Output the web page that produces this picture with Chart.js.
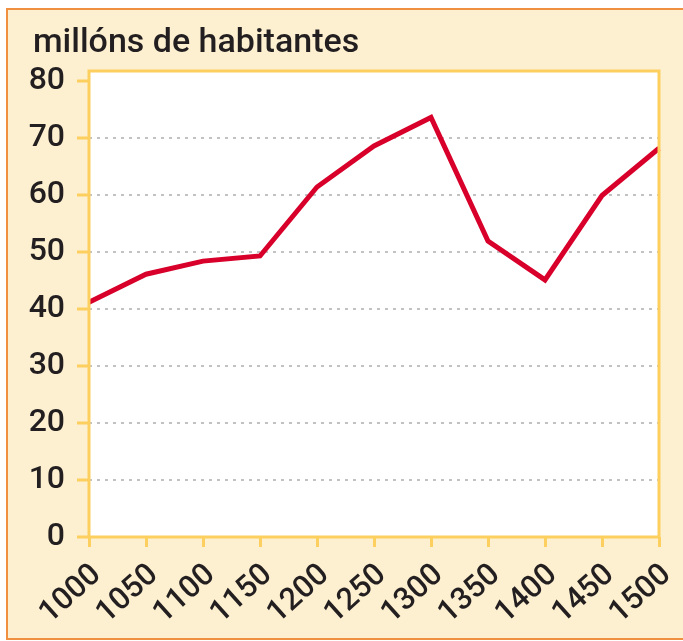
<!DOCTYPE html>
<html>
<head>
<meta charset="utf-8">
<script src="https://cdn.jsdelivr.net/npm/chart.js@4"></script>
<style>
html,body{margin:0;padding:0;background:#ffffff;}
#wrap{width:683px;height:641px;}
</style>
</head>
<body>
<div id="wrap"><canvas id="c" width="683" height="641"></canvas></div>
<script>
const years = ['1000','1050','1100','1150','1200','1250','1300','1350','1400','1450','1500'];
const population = [41.2, 46.1, 48.4, 49.3, 61.4, 68.6, 73.6, 51.9, 45.1, 59.9, 68.2];
const yTickValues = [0, 10, 20, 30, 40, 50, 60, 70, 80];
const titleText = 'millóns de habitantes';

const CREAM = '#fdf0d1';
const ORANGE = '#ef8f3f';
const YELLOW = '#fdcf5f';
const RED = '#d8002b';
const TEXT = '#231f20';

const framePlugin = {
  id: 'frame',
  beforeDraw(chart) {
    const ctx = chart.ctx;
    ctx.save();
    ctx.fillStyle = '#ffffff';
    ctx.fillRect(0, 0, chart.width, chart.height);
    ctx.fillStyle = CREAM;
    ctx.fillRect(7, 9, chart.width - 7, 630);
    ctx.strokeStyle = ORANGE;
    ctx.lineWidth = 2;
    ctx.beginPath();
    ctx.moveTo(chart.width, 9);
    ctx.lineTo(7, 9);
    ctx.lineTo(7, 639);
    ctx.lineTo(chart.width, 639);
    ctx.stroke();
    const a = chart.chartArea;
    ctx.fillStyle = '#ffffff';
    ctx.fillRect(a.left, a.top, a.right - a.left, a.bottom - a.top);
    ctx.fillStyle = TEXT;
    ctx.font = '500 34px Roboto';
    ctx.textAlign = 'left';
    ctx.textBaseline = 'alphabetic';
    ctx.fillText(titleText, 33, 52);
    ctx.restore();
  },
  afterDatasetsDraw(chart) {
    const ctx = chart.ctx;
    const a = chart.chartArea;
    ctx.save();
    ctx.strokeStyle = YELLOW;
    ctx.lineWidth = 3;
    ctx.strokeRect(a.left, a.top, a.right - a.left, a.bottom - a.top);
    ctx.restore();
  }
};

new Chart(document.getElementById('c'), {
  type: 'line',
  data: {
    labels: years,
    datasets: [{
      data: population,
      borderColor: RED,
      borderWidth: 5,
      pointRadius: 0,
      tension: 0,
      fill: false,
      borderJoinStyle: 'miter'
    }]
  },
  options: {
    responsive: false,
    animation: false,
    devicePixelRatio: 1,
    layout: { padding: { left: 10, top: 71, right: 24, bottom: 0 } },
    plugins: {
      legend: { display: false },
      tooltip: { enabled: false },
      title: { display: false }
    },
    scales: {
      x: {
        type: 'category',
        offset: false,
        afterFit(scale) {
          scale.height = 641 - 537;
          scale.paddingLeft = 0;
          scale.paddingRight = 0;
        },
        border: { display: false },
        grid: {
          drawOnChartArea: false,
          drawTicks: true,
          tickLength: 10,
          tickColor: YELLOW,
          tickWidth: 3
        },
        ticks: {
          autoSkip: false,
          maxRotation: 42,
          minRotation: 42,
          padding: 10,
          labelOffset: 8,
          color: TEXT,
          font: { family: 'Roboto', size: 31, weight: 500 }
        }
      },
      y: {
        min: 0,
        max: 81.75,
        afterFit(scale) {
          scale.width = 89 - 10;
          scale.paddingTop = 0;
          scale.paddingBottom = 0;
        },
        afterBuildTicks(scale) { scale.ticks = yTickValues.map(v => ({ value: v })); },
        border: { display: false, dash: [3, 5] },
        grid: {
          color: ctx => (ctx.tick && ctx.tick.value > 0 && ctx.tick.value < 80) ? '#c2c2c2' : 'rgba(0,0,0,0)',
          lineWidth: 2,
          drawTicks: true,
          tickLength: 12,
          tickColor: YELLOW,
          tickWidth: 3,
          tickBorderDash: []
        },
        ticks: {
          padding: 12,
          color: TEXT,
          font: { family: 'Roboto', size: 32, weight: 500 }
        }
      }
    }
  },
  plugins: [framePlugin]
});
</script>
</body>
</html>
